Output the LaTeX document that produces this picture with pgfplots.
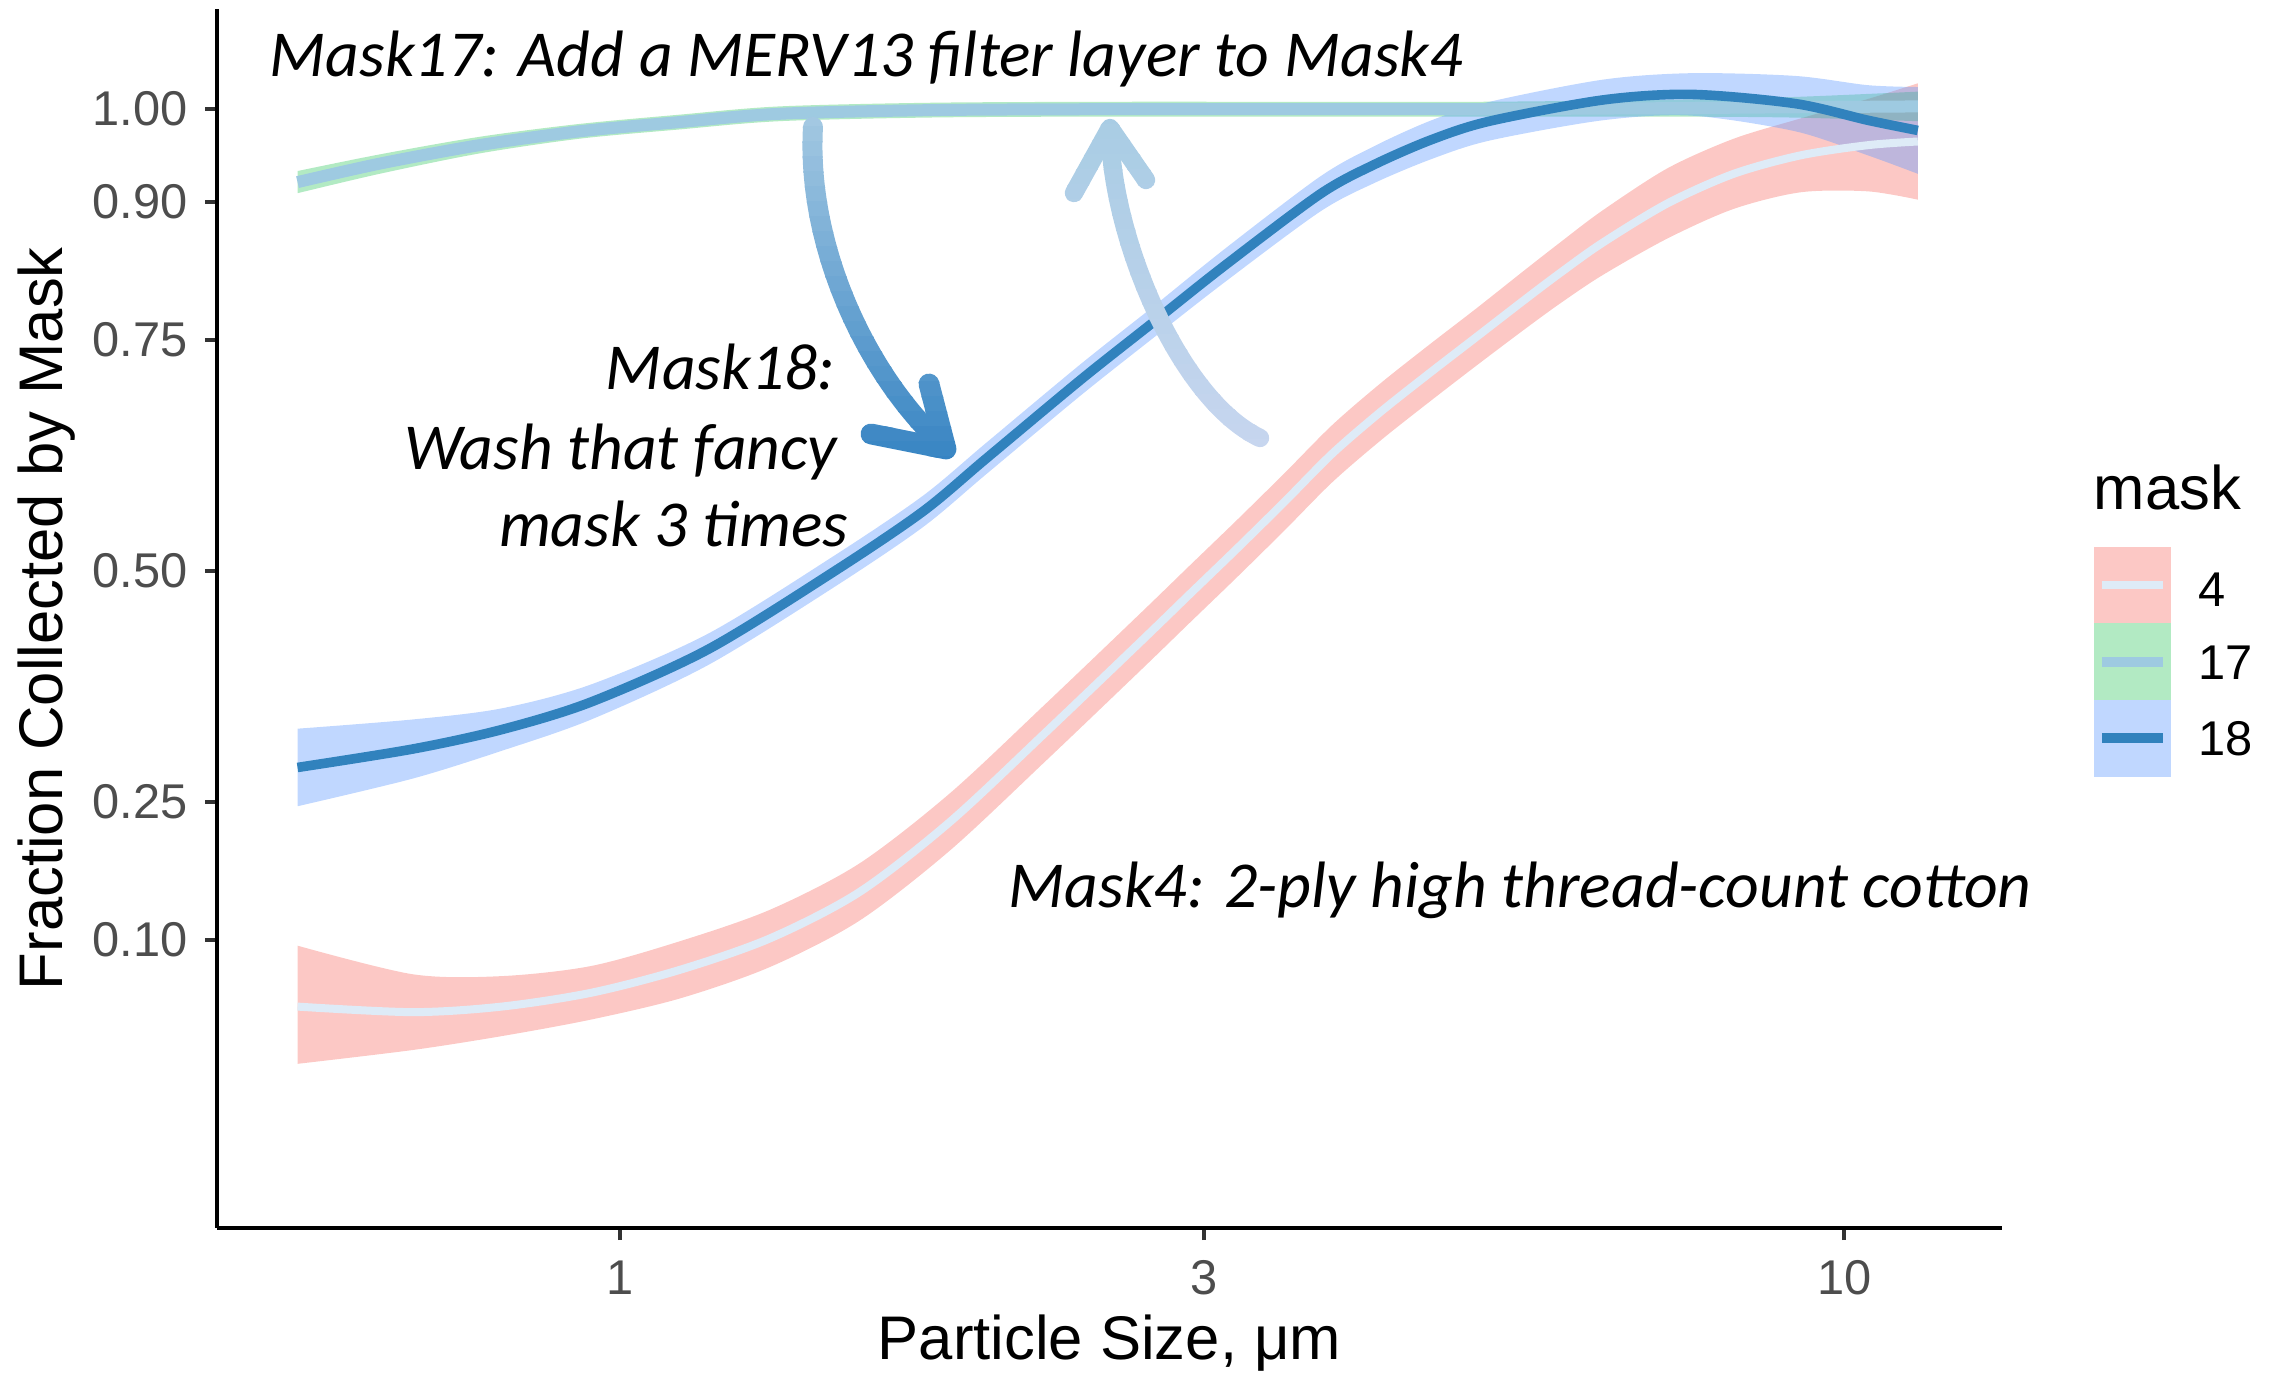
\documentclass[border=0pt]{standalone}
\usepackage{pgfplots}
\pgfplotsset{compat=1.18}
\usepgfplotslibrary{fillbetween}
\usepackage{pgfplotstable}
\usepackage{fontspec}
\setmainfont{Liberation Sans}
\newfontfamily\annotfont{Carlito}

\definecolor{rib4}{HTML}{F8766D}
\definecolor{rib17}{HTML}{00BA38}
\definecolor{rib18}{HTML}{619CFF}
\definecolor{ln4}{HTML}{DEEBF7}
\definecolor{ln17}{HTML}{9ECAE1}
\definecolor{ln18}{HTML}{3182BD}
\definecolor{ticktext}{HTML}{4D4D4D}
\definecolor{tickline}{HTML}{333333}
\definecolor{arAtop}{HTML}{A3C8E2}
\definecolor{arAbot}{HTML}{3784C3}
\definecolor{arBtop}{HTML}{A8CCE4}
\definecolor{arBbot}{HTML}{C8D6EF}

\pgfplotstableread{
x y lo hi
0.545 0.028 -0.034 0.094
0.677 0.022 -0.019 0.063
0.80 0.028 -0.004 0.061
0.947 0.043 0.014 0.072
1.12 0.068 0.037 0.099
1.326 0.102 0.071 0.133
1.568 0.152 0.121 0.183
1.859 0.228 0.197 0.259
2.226 0.325 0.294 0.356
2.665 0.424 0.393 0.455
2.915 0.474 0.443 0.505
3.19 0.524 0.493 0.555
3.49 0.575 0.544 0.606
3.817 0.627 0.596 0.658
4.178 0.672 0.641 0.703
4.571 0.713 0.682 0.744
5.002 0.753 0.722 0.784
5.472 0.793 0.761 0.825
5.85 0.822 0.789 0.855
6.34 0.855 0.820 0.890
7.17 0.898 0.860 0.936
8.12 0.930 0.892 0.968
9.21 0.950 0.910 0.990
10.45 0.961 0.911 1.011
11.48 0.965 0.902 1.028
}\mfour

\pgfplotstableread{
x y lo hi
0.545 0.921 0.909 0.933
0.636 0.941 0.930 0.951
0.767 0.961 0.952 0.970
0.926 0.976 0.968 0.984
1.117 0.986 0.978 0.994
1.349 0.995 0.987 1.003
1.8 0.999 0.991 1.007
2.5 1.000 0.992 1.008
3.5 1.000 0.992 1.008
5 1.000 0.992 1.008
7 1.001 0.992 1.010
9 1.002 0.991 1.013
11.48 1.003 0.987 1.019
}\mseventeen

\pgfplotstableread{
x y lo hi
0.545 0.287 0.245 0.329
0.677 0.307 0.275 0.339
0.80 0.328 0.305 0.351
0.947 0.358 0.339 0.377
1.18 0.415 0.398 0.432
1.494 0.499 0.482 0.516
1.766 0.564 0.547 0.581
1.988 0.621 0.604 0.638
2.378 0.707 0.690 0.724
2.724 0.769 0.752 0.786
3.113 0.830 0.812 0.848
3.73 0.908 0.889 0.927
4.13 0.940 0.920 0.960
4.6 0.967 0.946 0.988
5.13 0.987 0.966 1.008
6.35 1.010 0.988 1.032
7.5 1.016 0.993 1.039
9.12 1.006 0.976 1.036
10.45 0.988 0.950 1.026
11.48 0.977 0.930 1.024
}\meighteen

\newcommand\annot{\annotfont\itshape\fontsize{16.4bp}{19.5bp}\selectfont}
\newcommand\titlefont{\fontsize{15.4bp}{18bp}\selectfont}
\newcommand\smallfont{\fontsize{12.2bp}{14bp}\selectfont}

\begin{document}
\begin{tikzpicture}
\begin{axis}[
  at={(54.25bp,37bp)}, anchor=south west,
  width=446.25bp, height=304.7bp, scale only axis,
  xmode=log, xmin=0.4684, xmax=13.45, ymin=-0.2118, ymax=1.1083,
  axis lines=left, axis line style={-, line width=1bp, black},
  xtick={1,3,10}, xticklabels={1,3,10}, minor xtick={},
  ytick={0.1,0.25,0.5,0.75,0.9,1}, yticklabels={0.10,0.25,0.50,0.75,0.90,1.00},
  minor ytick={},
  tick align=outside, major tick length=3bp,
  tick style={line width=1bp, color=tickline},
  ticklabel style={font=\smallfont, text=ticktext, inner sep=0pt},
  yticklabel style={anchor=east, xshift=-4.2bp},
  xticklabel style={anchor=north, yshift=-5bp},
]
 \addplot[name path=u4, draw=none, smooth] table[x=x,y=hi]{\mfour};
 \addplot[name path=l4, draw=none, smooth] table[x=x,y=lo]{\mfour};
 \addplot[fill=rib4, fill opacity=0.4, draw=none] fill between[of=u4 and l4];
 \addplot[ln4, line width=2bp, smooth] table[x=x,y=y]{\mfour};

 \addplot[name path=u17, draw=none, smooth] table[x=x,y=hi]{\mseventeen};
 \addplot[name path=l17, draw=none, smooth] table[x=x,y=lo]{\mseventeen};
 \addplot[fill=rib17, fill opacity=0.3, draw=none] fill between[of=u17 and l17];
 \addplot[ln17, line width=3bp, smooth] table[x=x,y=y]{\mseventeen};

 \addplot[name path=u18, draw=none, smooth] table[x=x,y=hi]{\meighteen};
 \addplot[name path=l18, draw=none, smooth] table[x=x,y=lo]{\meighteen};
 \addplot[fill=rib18, fill opacity=0.4, draw=none] fill between[of=u18 and l18];
 \addplot[ln18, line width=2.4bp, smooth] table[x=x,y=y]{\meighteen};
\end{axis}

\begin{scope}[x=0.25bp,y=-0.25bp,shift={(0bp,344bp)}]
 % axis titles
 \node[anchor=base, inner sep=0pt, font=\titlefont] at (1109.5,1360) {Particle Size, μm};
 \node[anchor=base, inner sep=0pt, rotate=90, font=\titlefont] at (62.5,618.7) {Fraction Collected by Mask};

 % annotations
 \node[anchor=base west, inner sep=0pt, font=\annot] at (269,77) {Mask17: Add a MERV13 filter layer to Mask4};
 \node[anchor=base east, inner sep=0pt, font=\annot] at (836,390) {Mask18:};
 \node[anchor=base east, inner sep=0pt, font=\annot] at (838,470) {Wash that fancy};
 \node[anchor=base east, inner sep=0pt, font=\annot] at (849,547) {mask 3 times};
 \node[anchor=base west, inner sep=0pt, font=\annot] at (1008,908) {Mask4: 2-ply high thread-count cotton};

 % arrow 1 (gradient)
 \foreach \k in {0,...,23}{
   \pgfmathsetmacro\ya{112+\k*15}
   \pgfmathsetmacro\yb{\ya+15.8}
   \pgfmathtruncatemacro\pct{100-\k*100/23}
   \colorlet{cur}{arAtop!\pct!arAbot}
   \begin{scope}
     \clip (700,\ya) rectangle (1000,\yb);
     \draw[cur, line width=5bp, line cap=round, line join=round] (813,127) .. controls (806,250) and (870,380) .. (945,447);
     \draw[cur, line width=5.2bp, line cap=round, line join=round] (929,384) -- (946,449) -- (871,434);
   \end{scope}
 }
 % arrow 2 (gradient)
 \foreach \k in {0,...,23}{
   \pgfmathsetmacro\ya{110+\k*15}
   \pgfmathsetmacro\yb{\ya+15.8}
   \pgfmathtruncatemacro\pct{100-\k*100/23}
   \colorlet{cur}{arBtop!\pct!arBbot}
   \begin{scope}
     \clip (1030,\ya) rectangle (1300,\yb);
     \draw[cur, line width=4.6bp, line cap=round, line join=round] (1260,438) .. controls (1180,400) and (1112,240) .. (1110,132);
     \draw[cur, line width=4.6bp, line cap=round, line join=round] (1074,193) -- (1110,128) -- (1146,180);
   \end{scope}
 }

 % legend
 \node[anchor=base west, inner sep=0pt, font=\titlefont] at (2093,510) {mask};
 \fill[rib4, opacity=0.4] (2094,547) rectangle (2171,623.5);
 \fill[rib17, opacity=0.3] (2094,623.5) rectangle (2171,700);
 \fill[rib18, opacity=0.4] (2094,700) rectangle (2171,777);
 \draw[ln4, line width=2bp] (2102,585) -- (2163,585);
 \draw[ln17, line width=2.6bp] (2102,662) -- (2163,662);
 \draw[ln18, line width=2.4bp] (2102,738) -- (2163,738);
 \node[anchor=west, inner sep=0pt, font=\smallfont] at (2198,590) {4};
 \node[anchor=west, inner sep=0pt, font=\smallfont] at (2198,663) {17};
 \node[anchor=west, inner sep=0pt, font=\smallfont] at (2198,739) {18};
\end{scope}
\pgfresetboundingbox
\path[use as bounding box] (0,0) rectangle (570bp,344bp);
\end{tikzpicture}
\end{document}
